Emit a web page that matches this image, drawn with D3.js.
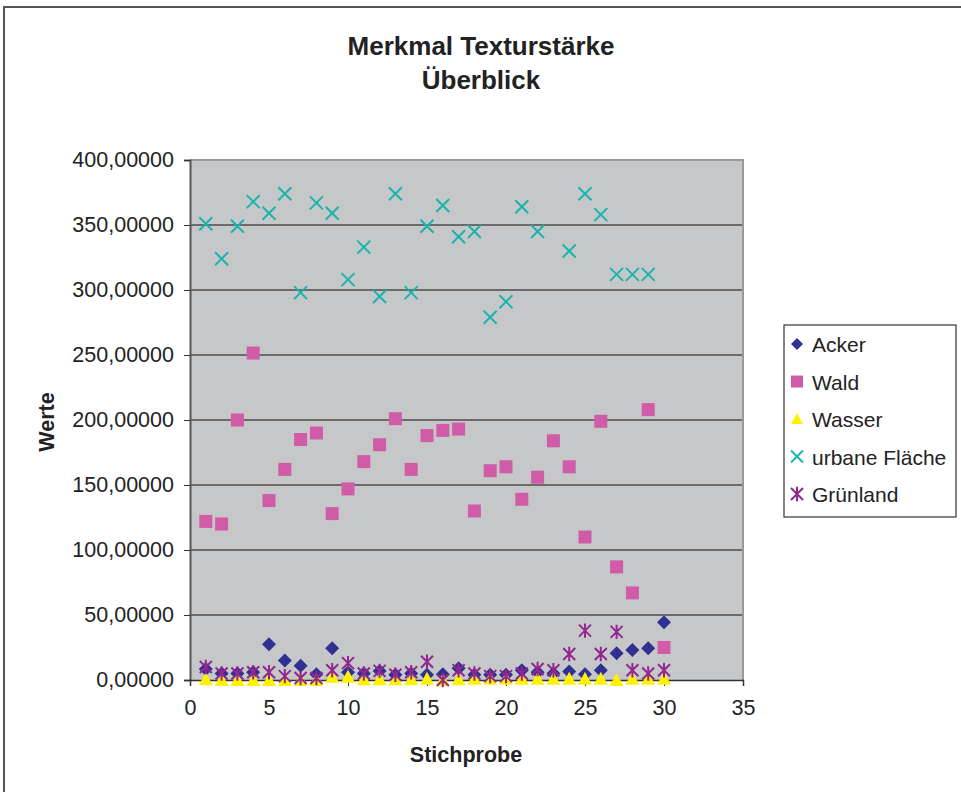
<!DOCTYPE html>
<html>
<head>
<meta charset="utf-8">
<script src="https://cdn.jsdelivr.net/npm/d3@7"></script>
<style>
  body { margin: 0; background: #fff; }
  text { font-family: "Liberation Sans", Arial, sans-serif; fill: #222; }
</style>
</head>
<body>
<div id="chart"></div>
<script>
const samples = d3.range(1, 31);
const acker = [8.5, 5, 5, 6, 27.5, 15, 11, 4.5, 24.5, 6, 5, 7, 4, 5, 4, 4.5, 9, 4, 4, 4, 7.5, 6, 5, 6.5, 4.5, 7.5, 20.5, 23, 24.5, 44.5];
const wald = [122, 120, 200, 251.5, 138, 162, 185, 190, 128, 147, 168, 181, 201, 162, 188, 192, 193, 130, 161, 164, 139, 156, 184, 164, 110, 199, 87, 67, 208, 25];
const wasser = [0.5, 0, 0, 0, 0, 0, 0, 0, 2.5, 2.5, 0.5, 0.5, 0.5, 0.5, 1, 0, 0.5, 1, 1, 1, 1, 1, 1, 1, 1, 1, 0, 1, 1, 1];
const urban = [351, 324, 349, 368, 359, 374, 298, 367, 359, 308, 333, 295, 374, 298, 349, 365, 341, 345, 279, 291, 364, 345, null, 330, 374, 358, 312, 312, 312, null];
const gruen = [10, 5, 5, 6, 6, 3, 1.5, 1.5, 7.5, 13, 5, 7, 4, 6, 14, 0, 7.5, 5, 3, 3, 5, 8.5, 7.5, 20, 38, 20, 37, 7.5, 5, 7.5];

const seriesNames = ["Acker", "Wald", "Wasser", "urbane Fläche", "Grünland"];
const seriesValues = [acker, wald, wasser, urban, gruen];
const colors = ["#2e3192", "#d05ca8", "#fff200", "#19b5ac", "#92278f"];
const shapes = ["diamond", "square", "triangle", "x", "star"];

const xTicks = [0, 5, 10, 15, 20, 25, 30, 35];
const yTicks = [0, 50, 100, 150, 200, 250, 300, 350, 400];

const W = 961, H = 792;
const plot = {left: 190, top: 160, right: 743, bottom: 680};

const svg = d3.select("#chart").append("svg")
    .attr("width", W)
    .attr("height", H);

// outer chart border (open at right/bottom like the crop)
svg.append("rect")
    .attr("x", 4).attr("y", 7)
    .attr("width", W + 20).attr("height", H + 20)
    .attr("fill", "#fff")
    .attr("stroke", "#555")
    .attr("stroke-width", 2);

const x = d3.scaleLinear().domain([0, 35]).range([plot.left, plot.right]);
const y = d3.scaleLinear().domain([0, 400]).range([plot.bottom, plot.top]);

// plot background
svg.append("rect")
    .attr("x", plot.left).attr("y", plot.top)
    .attr("width", plot.right - plot.left)
    .attr("height", plot.bottom - plot.top)
    .attr("fill", "#c6c7c9");

// gridlines
svg.append("g")
    .selectAll("line")
    .data(yTicks.filter(d => d > 0 && d < 400))
    .join("line")
    .attr("x1", plot.left).attr("x2", plot.right)
    .attr("y1", d => y(d)).attr("y2", d => y(d))
    .attr("stroke", "#111")
    .attr("stroke-width", 1.2);

// plot border top / right
svg.append("path")
    .attr("d", `M${plot.left},${plot.top}H${plot.right}V${plot.bottom}`)
    .attr("fill", "none")
    .attr("stroke", "#999")
    .attr("stroke-width", 2);

const fmt = d => d3.format(".5f")(d).replace(".", ",");

const yAxis = svg.append("g")
    .attr("transform", `translate(${plot.left},0)`)
    .call(d3.axisLeft(y).tickValues(yTicks).tickFormat(fmt).tickSize(6).tickPadding(10));
yAxis.select(".domain").attr("stroke", "#555").attr("stroke-width", 2);
yAxis.selectAll(".tick line").attr("stroke", "#333");
yAxis.selectAll("text")
    .style("font-size", "21.5px")
    .attr("fill", "#222");

const xAxis = svg.append("g")
    .attr("transform", `translate(0,${plot.bottom})`)
    .call(d3.axisBottom(x).tickValues(xTicks).tickSize(6).tickPadding(14));
xAxis.select(".domain").attr("stroke", "#333").attr("stroke-width", 1.5);
xAxis.selectAll(".tick line").attr("stroke", "#333");
xAxis.selectAll("text")
    .style("font-size", "21.5px")
    .attr("fill", "#222");

// marker shapes
function markerPath(shape, s) {
    const h = s / 2;
    switch (shape) {
        case "diamond": return `M0,${-h}L${h},0L0,${h}L${-h},0Z`;
        case "square": return `M${-h},${-h}H${h}V${h}H${-h}Z`;
        case "triangle": return `M0,${-h}L${h},${h * 0.85}L${-h},${h * 0.85}Z`;
        case "x": return `M${-h},${-h}L${h},${h}M${h},${-h}L${-h},${h}`;
        case "star": return `M${-h},${-h}L${h},${h}M${h},${-h}L${-h},${h}M0,${-h * 1.2}V${h * 1.2}`;
    }
}
const sizes = {diamond: 14, square: 13, triangle: 14, x: 13, star: 12};

function drawMarker(g, shape, color, s) {
    const filled = shape !== "x" && shape !== "star";
    g.append("path")
        .attr("d", markerPath(shape, s || sizes[shape]))
        .attr("fill", filled ? color : "none")
        .attr("stroke", filled ? "none" : color)
        .attr("stroke-width", 2);
}

seriesNames.forEach((name, i) => {
    const pts = samples.map((s, j) => ({x: s, y: seriesValues[i][j]})).filter(d => d.y != null);
    const g = svg.append("g").attr("class", "series");
    g.selectAll("g")
        .data(pts)
        .join("g")
        .attr("transform", d => `translate(${x(d.x)},${y(d.y)})`)
        .each(function() { drawMarker(d3.select(this), shapes[i], colors[i]); });
});

// titles
svg.append("text")
    .attr("x", 481).attr("y", 55)
    .attr("text-anchor", "middle")
    .style("font-size", "26px").style("font-weight", "bold")
    .text("Merkmal Texturstärke");
svg.append("text")
    .attr("x", 481).attr("y", 89)
    .attr("text-anchor", "middle")
    .style("font-size", "26px").style("font-weight", "bold")
    .text("Überblick");

svg.append("text")
    .attr("x", 466).attr("y", 762)
    .attr("text-anchor", "middle")
    .style("font-size", "21.5px").style("font-weight", "bold")
    .text("Stichprobe");

svg.append("text")
    .attr("transform", "translate(54,422) rotate(-90)")
    .attr("text-anchor", "middle")
    .style("font-size", "21.5px").style("font-weight", "bold")
    .text("Werte");

// legend
const legend = svg.append("g");
legend.append("rect")
    .attr("x", 784).attr("y", 325)
    .attr("width", 172).attr("height", 192)
    .attr("fill", "#fff")
    .attr("stroke", "#333")
    .attr("stroke-width", 1.2);

seriesNames.forEach((name, i) => {
    const item = legend.append("g")
        .attr("transform", `translate(797,${344 + i * 37.5})`);
    drawMarker(item, shapes[i], colors[i], 12);
    item.append("text")
        .attr("x", 15).attr("y", 8)
        .style("font-size", "21px")
        .text(name);
});
</script>
</body>
</html>
